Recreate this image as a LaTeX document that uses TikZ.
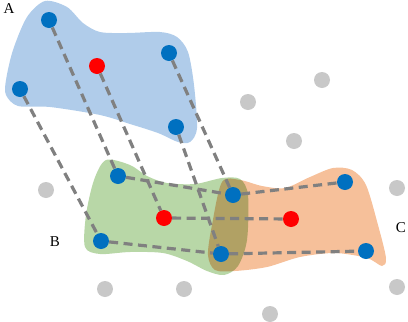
\documentclass[tikz,border=0pt]{standalone}
\usepackage{fontspec}
\setmainfont{Liberation Serif}
\usepackage{xcolor}
\usepackage{tikz}
\definecolor{blobblue}{RGB}{176,204,234}
\definecolor{blobgreen}{RGB}{184,215,167}
\definecolor{bloborange}{RGB}{246,192,154}
\definecolor{ptblue}{RGB}{0,112,192}
\definecolor{ptgray}{RGB}{200,200,200}
\definecolor{linkgray}{RGB}{128,128,128}

\begin{document}
\begin{tikzpicture}[
  x=1pt, y=-1pt,
  font=\fontsize{15}{18}\selectfont,
  dot/.style={circle, inner sep=0pt, minimum size=16pt},
  bdot/.style={dot, fill=ptblue},
  rdot/.style={dot, fill=red},
  gdot/.style={dot, fill=ptgray},
  link/.style={draw=linkgray, line width=3.2pt, dash pattern=on 9pt off 5.5pt},
  lab/.style={inner sep=0pt}
]
\useasboundingbox (0,0) rectangle (408,322);
% blobs
\fill[blobblue] plot[smooth cycle] coordinates {(45,1) (67,7) (83,23) (100,32)
  (127,33) (160,32) (177,37) (188,52) (194,85) (197,128) (190,142) (178,142)
  (158,133) (130,124) (100,115) (50,107) (18,106) (6,95) (6,80) (13,50) (27,17)};
\fill[blobgreen] plot[smooth cycle] coordinates {(106,160) (130,165) (147,176)
  (167,183) (195,184) (222,178) (240,179) (248,195) (247,240) (238,266)
  (224,275) (207,271) (187,261) (163,253) (130,252) (100,254) (85,247)
  (86,215) (94,180)};
\fill[bloborange, blend mode=multiply] plot[smooth cycle] coordinates {(222,182)
  (240,180) (262,186) (285,188) (310,177) (333,168) (352,170) (366,185)
  (378,225) (386,258) (382,266) (367,258) (335,253) (300,257) (267,267)
  (235,271) (215,270) (208,255) (212,225)};
% background points
\foreach \p [count=\i] in {(248,102),(322,80),(294,141),(46,190),(397,188),
    (105,289),(184,289),(270,314),(397,287)}
  \node[gdot] (g\i) at \p {};
% set A
\node[bdot] (a1) at (49,20) {};
\node[bdot] (a2) at (20,89) {};
\node[bdot] (a3) at (169,53) {};
\node[bdot] (a4) at (176,127) {};
\node[rdot] (ra) at (97,66) {};
% set B
\node[bdot] (b1) at (118,176) {};
\node[bdot] (b2) at (101,241) {};
\node[rdot] (rb) at (164,218) {};
% shared by B and C
\node[bdot] (s1) at (233,195) {};
\node[bdot] (s2) at (221,254) {};
% set C
\node[bdot] (c1) at (345,182) {};
\node[bdot] (c2) at (366,251) {};
\node[rdot] (rc) at (291,219) {};
% links
\draw[link] (a1) -- (b1);
\draw[link] (a2) -- (b2);
\draw[link] (ra) -- (rb);
\draw[link] (a3) -- (s1);
\draw[link] (a4) -- (s2);
\draw[link] (b1) -- (s1);
\draw[link] (s1) -- (c1);
\draw[link] (rb) -- (rc);
\draw[link] (b2) -- (s2);
\draw[link] (s2) -- (c2);
% labels
\node[lab] (la) at (9,9) {A};
\node[lab] (lb) at (55,242) {B};
\node[lab] (lc) at (401,228) {C};
\end{tikzpicture}
\end{document}
